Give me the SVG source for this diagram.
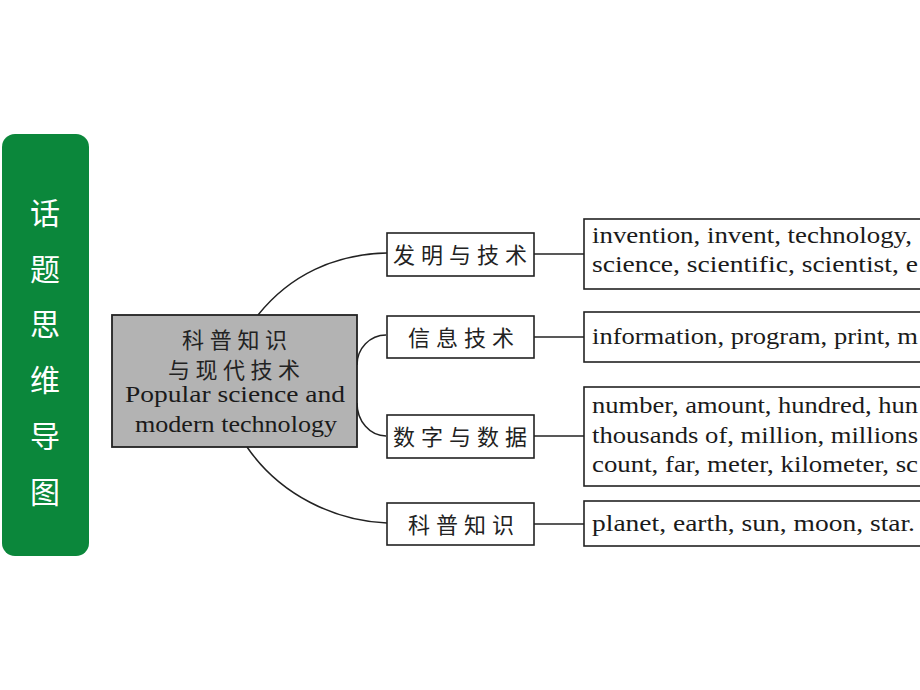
<svg xmlns="http://www.w3.org/2000/svg" width="920" height="690" viewBox="0 0 920 690">
<style>
.box{fill:#fff;stroke:#222;stroke-width:1.6}
.cn{font-family:"Noto Sans CJK SC",sans-serif;font-size:22px;fill:#222;letter-spacing:6px}
.en{font-family:"Liberation Serif",serif;font-size:23px;fill:#1a1a1a}
.side{font-family:"Noto Sans CJK SC",sans-serif;font-size:30px;fill:#fff;text-anchor:middle}
.conn{fill:none;stroke:#222;stroke-width:1.5}
</style>
<rect width="920" height="690" fill="#fff"/>
<g id="title">
<rect x="2" y="134" width="87" height="422" rx="13" fill="#0b873b"/>
<text class="side" x="45" y="224">话</text>
<text class="side" x="45" y="280">题</text>
<text class="side" x="45" y="335">思</text>
<text class="side" x="45" y="391">维</text>
<text class="side" x="45" y="447">导</text>
<text class="side" x="45" y="503">图</text>
</g>
<g id="connectors">
<path class="conn" d="M258,315 C290,275 335,254 387,253"/>
<path class="conn" d="M357,365 A29,30 0 0 1 386,335"/>
<path class="conn" d="M357,403 A29,33 0 0 0 386,436"/>
<path class="conn" d="M247,447 C280,495 335,521 387,523"/>
<path class="conn" d="M534,254 H584"/>
<path class="conn" d="M534,337 H584"/>
<path class="conn" d="M534,436 H584"/>
<path class="conn" d="M534,524 H584"/>
</g>
<g id="center">
<rect x="112" y="315" width="245" height="132" fill="#b3b3b3" stroke="#222" stroke-width="1.8"/>
<text class="cn" x="182" y="348" style="letter-spacing:5.7px">科普知识</text>
<text class="cn" x="168" y="378" style="letter-spacing:5.5px">与现代技术</text>
<text class="en" x="125" y="402" textLength="220" lengthAdjust="spacingAndGlyphs">Popular science and</text>
<text class="en" x="135" y="432" textLength="202" lengthAdjust="spacingAndGlyphs">modern technology</text>
</g>
<g id="b1">
<rect class="box" x="387" y="233" width="147" height="43"/>
<text class="cn" x="393" y="263">发明与技术</text>
</g>
<g id="b2">
<rect class="box" x="387" y="316" width="147" height="42"/>
<text class="cn" x="408" y="346">信息技术</text>
</g>
<g id="b3">
<rect class="box" x="387" y="415" width="147" height="43"/>
<text class="cn" x="393" y="445">数字与数据</text>
</g>
<g id="b4">
<rect class="box" x="387" y="503" width="147" height="42"/>
<text class="cn" x="408" y="533">科普知识</text>
</g>
<g id="d1">
<rect class="box" x="584" y="219" width="360" height="70"/>
<text class="en" x="592" y="243" textLength="320" lengthAdjust="spacingAndGlyphs">invention, invent, technology,</text>
<text class="en" x="592" y="272" textLength="326" lengthAdjust="spacingAndGlyphs">science, scientific, scientist, e</text>
</g>
<g id="d2">
<rect class="box" x="584" y="312" width="360" height="50"/>
<text class="en" x="592" y="344" textLength="326" lengthAdjust="spacingAndGlyphs">information, program, print, m</text>
</g>
<g id="d3">
<rect class="box" x="584" y="387" width="360" height="99"/>
<text class="en" x="592" y="413" textLength="326" lengthAdjust="spacingAndGlyphs">number, amount, hundred, hun</text>
<text class="en" x="592" y="443" textLength="326" lengthAdjust="spacingAndGlyphs">thousands of, million, millions</text>
<text class="en" x="592" y="472" textLength="326" lengthAdjust="spacingAndGlyphs">count, far, meter, kilometer, sc</text>
</g>
<g id="d4">
<rect class="box" x="584" y="501" width="360" height="45"/>
<text class="en" x="592" y="531" textLength="323" lengthAdjust="spacingAndGlyphs">planet, earth, sun, moon, star.</text>
</g>
</svg>
